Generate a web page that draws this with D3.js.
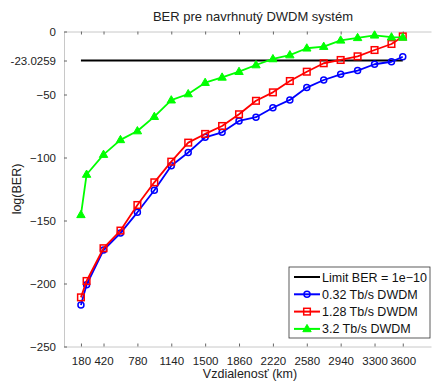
<!DOCTYPE html>
<html>
<head>
<meta charset="utf-8">
<script src="https://cdn.jsdelivr.net/npm/d3@7"></script>
<style>
  body { margin: 0; background: #fff; }
  svg { display: block; font-family: "Liberation Sans", Arial, sans-serif; }
</style>
</head>
<body>
<svg id="svg" width="434" height="381"></svg>
<script>
// distance in km
const distances = [180, 240, 420, 600, 780, 960, 1140, 1320, 1500, 1680, 1860,
  2040, 2220, 2400, 2580, 2760, 2940, 3120, 3300, 3480, 3600];

// log(BER) for each system
const ber032 = [-217, -201, -173.5, -160, -143.5, -126, -106.5, -96, -84, -80, -71,
  -68, -60.5, -54.3, -44.5, -38.5, -34, -31, -26, -24, -20];
const ber128 = [-211, -198, -172, -158, -137.7, -119.7, -103.3, -88.2, -81.3, -75, -65.7,
  -55, -48.3, -39.3, -31.9, -25.2, -22.6, -19.7, -14.7, -9.9, -3.9];
const ber32 = [-145.5, -113.5, -97.7, -86, -79, -67.6, -54.5, -49.6, -40.6, -36.4, -31.9,
  -26.6, -21.8, -18.7, -13.3, -12, -7, -5, -3, -4.5, -4.7];

const limitBER = -23.0259;
const limitRange = [180, 3600];

const xTicks = [180, 420, 780, 1140, 1500, 1860, 2220, 2580, 2940, 3300, 3600];
const yTicks = [-250, -200, -150, -100, -50, -23.0259, 0];

const seriesNames = ["Limit BER = 1e\u221210", "0.32 Tb/s DWDM", "1.28 Tb/s DWDM", "3.2 Tb/s DWDM"];

let svg = d3.select("svg");
let margin = {top: 31.5, right: 3, bottom: 34.5, left: 64};
let width = 434 - margin.left - margin.right;
let height = 381 - margin.top - margin.bottom;

let x = d3.scaleLinear().domain([0, 3900]).range([0, width]);
let y = d3.scaleLinear().domain([-250, 0]).range([height, 0]);

let g = svg.append("g").attr("transform", "translate(" + margin.left + "," + margin.top + ")");

// axes: ticks point inwards, like matlab
let fmtY = v => v == limitBER ? "-23.0259" : (v < 0 ? "\u2212" + Math.abs(v) : "" + v);

let xAxis = g.append("g")
  .attr("transform", "translate(0," + height + ")")
  .call(d3.axisBottom(x).tickValues(xTicks).tickSizeInner(-3).tickSizeOuter(0).tickPadding(10)
    .tickFormat(d => "" + d));
let xTop = g.append("g")
  .call(d3.axisTop(x).tickValues(xTicks).tickSizeInner(-3).tickSizeOuter(0).tickFormat(""));
let yAxis = g.append("g")
  .call(d3.axisLeft(y).tickValues(yTicks).tickSizeInner(-3).tickSizeOuter(0).tickPadding(8).tickFormat(fmtY));

[xAxis, xTop, yAxis].forEach(a => {
  a.select(".domain").attr("stroke", "#c8c8c8");
  a.selectAll(".tick line").attr("stroke", "#666");
  a.selectAll("text").attr("fill", "#222").style("font-size", "11.5px");
});

// limit line
g.append("line")
  .attr("x1", x(limitRange[0])).attr("x2", x(limitRange[1]))
  .attr("y1", y(limitBER)).attr("y2", y(limitBER))
  .attr("stroke", "black").attr("stroke-width", 2);

let line = d3.line()
  .x(d => x(d[0]))
  .y(d => y(d[1]));

let series = [
  {values: ber032, color: "#0000ff", marker: "circle"},
  {values: ber128, color: "#ff0000", marker: "square"},
  {values: ber32, color: "#00ff00", marker: "triangle"}
];

function drawMarker(sel, kind, color) {
  if (kind == "circle") {
    sel.append("circle").attr("r", 3)
      .attr("fill", "none").attr("stroke", color).attr("stroke-width", 1.5);
  } else if (kind == "square") {
    sel.append("rect").attr("x", -3.3).attr("y", -3.3).attr("width", 6.6).attr("height", 6.6)
      .attr("fill", "none").attr("stroke", color).attr("stroke-width", 1.5);
  } else {
    sel.append("path").attr("d", "M0,-4.5L4.2,2.8L-4.2,2.8Z")
      .attr("fill", color).attr("stroke", color).attr("stroke-width", 1);
  }
}

series.forEach(s => {
  let pts = distances.map((d, i) => [d, s.values[i]]);
  g.append("path")
    .datum(pts)
    .attr("fill", "none")
    .attr("stroke", s.color)
    .attr("stroke-width", 1.8)
    .attr("stroke-linejoin", "round")
    .attr("d", line);
  pts.forEach(p => {
    let m = g.append("g").attr("transform", "translate(" + x(p[0]) + "," + y(p[1]) + ")");
    drawMarker(m, s.marker, s.color);
  });
});

// title + labels
svg.append("text")
  .attr("x", 253).attr("y", 21)
  .attr("text-anchor", "middle")
  .style("font-size", "13px").attr("fill", "#222")
  .text("BER pre navrhnutý DWDM systém");

svg.append("text")
  .attr("x", 250).attr("y", 378)
  .attr("text-anchor", "middle")
  .style("font-size", "12.5px").attr("fill", "#222")
  .text("Vzdialenosť  (km)");

svg.append("text")
  .attr("transform", "translate(21,189) rotate(-90)")
  .attr("text-anchor", "middle")
  .style("font-size", "12.5px").attr("fill", "#222")
  .text("log(BER)");

// legend
let lg = svg.append("g").attr("transform", "translate(289,267)");
lg.append("rect")
  .attr("width", 141).attr("height", 71)
  .attr("fill", "white").attr("stroke", "#333").attr("stroke-width", 0.8);

let legendItems = [
  {color: "black", marker: null},
  {color: "#0000ff", marker: "circle"},
  {color: "#ff0000", marker: "square"},
  {color: "#00ff00", marker: "triangle"}
];
legendItems.forEach((it, i) => {
  let row = lg.append("g").attr("transform", "translate(0," + (10 + i * 17.3) + ")");
  row.append("line").attr("x1", 5).attr("x2", 31).attr("y1", 0).attr("y2", 0)
    .attr("stroke", it.color).attr("stroke-width", 2);
  if (it.marker) {
    drawMarker(row.append("g").attr("transform", "translate(18,0)"), it.marker, it.color);
  }
  row.append("text").attr("x", 33).attr("y", 4.5)
    .style("font-size", "12.5px").attr("fill", "#111")
    .text(seriesNames[i]);
});
</script>
</body>
</html>
